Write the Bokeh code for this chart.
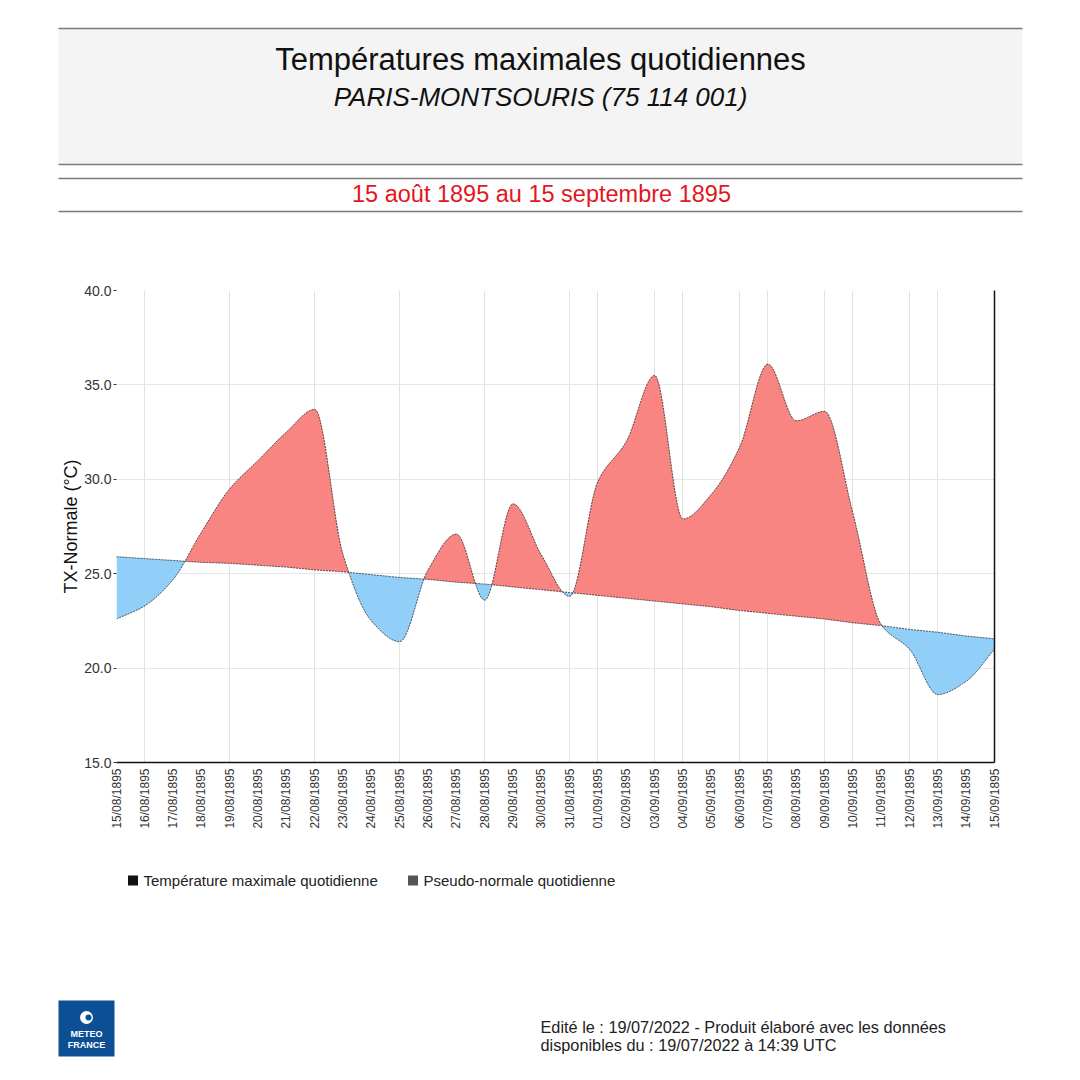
import numpy as np
from bokeh.plotting import figure
from bokeh.layouts import column
from bokeh.models import (Range1d, FixedTicker, PrintfTickFormatter, LinearAxis, ColumnDataSource)
from bokeh.core.properties import value
from bokeh.embed import file_html
from bokeh.resources import INLINE

FONT = "Liberation Sans"

# ---------------- data ----------------
dates = ["15/08/1895", "16/08/1895", "17/08/1895", "18/08/1895", "19/08/1895", "20/08/1895",
         "21/08/1895", "22/08/1895", "23/08/1895", "24/08/1895", "25/08/1895", "26/08/1895",
         "27/08/1895", "28/08/1895", "29/08/1895", "30/08/1895", "31/08/1895", "01/09/1895",
         "02/09/1895", "03/09/1895", "04/09/1895", "05/09/1895", "06/09/1895", "07/09/1895",
         "08/09/1895", "09/09/1895", "10/09/1895", "11/09/1895", "12/09/1895", "13/09/1895",
         "14/09/1895", "15/09/1895"]
tx = [22.6, 23.3, 24.7, 27.2, 29.5, 31.0, 32.5, 33.7, 26.0, 22.5, 21.4, 25.2,
      27.1, 23.6, 28.7, 26.0, 23.8, 29.9, 32.0, 35.5, 27.9, 29.2, 31.7, 36.1,
      33.1, 33.6, 28.2, 22.3, 21.0, 18.6, 19.3, 21.0]
normale = [25.9, 25.8, 25.7, 25.6, 25.55, 25.45, 25.35, 25.2, 25.1, 24.95, 24.8, 24.7,
           24.55, 24.45, 24.3, 24.15, 24.0, 23.85, 23.7, 23.55, 23.4, 23.25, 23.05, 22.9,
           22.75, 22.6, 22.4, 22.25, 22.05, 21.9, 21.7, 21.55]
grid_days = [1, 4, 7, 10, 13, 16, 17, 19, 20, 22, 23, 25, 26, 28, 29]
y_ticks = [15, 20, 25, 30, 35, 40]

title = "Températures maximales quotidiennes"
subtitle = "PARIS-MONTSOURIS (75 114 001)"
period = "15 août 1895 au 15 septembre 1895"
legend_labels = ["Température maximale quotidienne", "Pseudo-normale quotidienne"]
footer_lines = ["Edité le : 19/07/2022 - Produit élaboré avec les données",
                "disponibles du : 19/07/2022 à 14:39 UTC"]

RED = "#F98583"
BLUE = "#92CFF8"


def smooth(ys, n=30):
    """monotone cubic (PCHIP-like) rendering of daily values, unit spacing"""
    y = np.asarray(ys, dtype=float)
    m = len(y)
    dl = np.diff(y)
    d = np.zeros(m)
    d[0], d[-1] = dl[0], dl[-1]
    for k in range(1, m - 1):
        a, b = dl[k - 1], dl[k]
        d[k] = 0.0 if a * b <= 0 else 2 * a * b / (a + b)
    xs_out, ys_out = [], []
    t = np.linspace(0, 1, n, endpoint=False)
    h00 = 2 * t ** 3 - 3 * t ** 2 + 1
    h10 = t ** 3 - 2 * t ** 2 + t
    h01 = -2 * t ** 3 + 3 * t ** 2
    h11 = t ** 3 - t ** 2
    for i in range(m - 1):
        xs_out.append(i + t)
        ys_out.append(h00 * y[i] + h10 * d[i] + h01 * y[i + 1] + h11 * d[i + 1])
    xs_out.append(np.array([m - 1.0]))
    ys_out.append(np.array([y[-1]]))
    return np.concatenate(xs_out), np.concatenate(ys_out)


xs, tx_s = smooth(tx)
norm_s = np.interp(xs, np.arange(len(normale)), normale)

W = 1064


def blank(h, y0, y1):
    f = figure(width=W, height=h, x_range=Range1d(0, W), y_range=Range1d(y1, y0),
               x_axis_type=None, y_axis_type=None, toolbar_location=None,
               output_backend="svg", min_border=0, frame_align=False)
    f.grid.visible = False
    f.outline_line_color = None
    return f


# ---------------- header ----------------
head = blank(232, 0, 232)
head.quad(left=[58], right=[1022], top=[28], bottom=[164], fill_color="#F4F4F4", line_color=None)
head.segment(x0=[58] * 4, x1=[1022] * 4, y0=[28, 164, 178, 211], y1=[28, 164, 178, 211],
             line_color="#7a7a7a", line_width=1.3)
head.text(x=[540], y=[59], text=[title], text_font=value(FONT), text_font_size="31px",
          text_align="center", text_baseline="middle", text_color="#111111")
head.text(x=[540], y=[96], text=[subtitle], text_font=value(FONT), text_font_size="26px",
          text_font_style="italic", text_align="center", text_baseline="middle", text_color="#111111")
head.text(x=[541], y=[193], text=[period], text_font=value(FONT), text_font_size="23.5px",
          text_align="center", text_baseline="middle", text_color="#E3161E")

# ---------------- main chart ----------------
p = figure(width=W, height=620, x_range=Range1d(0, len(tx) - 1), y_range=Range1d(15, 40),
           toolbar_location=None, output_backend="svg", frame_align=False,
           min_border_left=116, min_border_right=70, min_border_top=58, min_border_bottom=90)
p.outline_line_color = None

src = ColumnDataSource(dict(x=xs, tx=tx_s, nm=norm_s,
                            hi=np.maximum(tx_s, norm_s), lo=np.minimum(tx_s, norm_s)))
p.varea(x="x", y1="nm", y2="hi", source=src, fill_color=RED)
p.varea(x="x", y1="lo", y2="nm", source=src, fill_color=BLUE)
p.line(x="x", y="tx", source=src, line_color="#222222", line_width=0.8, line_dash="2 1")
p.line(x="x", y="nm", source=src, line_color="#222222", line_width=0.8, line_dash="2 1")

p.xgrid.ticker = FixedTicker(ticks=grid_days)
p.xgrid.grid_line_color = "#e2e2e2"
p.ygrid.ticker = FixedTicker(ticks=y_ticks)
p.ygrid.grid_line_color = "#e6e6e6"

xa = p.xaxis[0]
xa.ticker = FixedTicker(ticks=list(range(len(dates))))
xa.major_label_overrides = {i: d for i, d in enumerate(dates)}
xa.major_label_orientation = np.pi / 2
xa.major_label_text_font = FONT
xa.major_label_text_font_size = "12px"
xa.major_label_text_color = "#333333"
xa.major_label_standoff = 6
xa.major_tick_out = 0
xa.major_tick_in = 0
xa.minor_tick_line_color = None
xa.axis_line_color = "#111111"
xa.axis_line_width = 1.5

ya = p.yaxis[0]
ya.ticker = FixedTicker(ticks=y_ticks)
ya.formatter = PrintfTickFormatter(format="%.1f")
ya.major_label_text_font = FONT
ya.major_label_text_font_size = "14px"
ya.major_label_text_color = "#333333"
ya.major_tick_out = 3
ya.major_tick_in = 0
ya.major_tick_line_color = "#333333"
ya.minor_tick_line_color = None
ya.axis_line_color = None
ya.major_label_standoff = 2
ya.axis_label = "TX-Normale (°C)"
ya.axis_label_text_font = FONT
ya.axis_label_text_font_size = "18px"
ya.axis_label_text_font_style = "normal"
ya.axis_label_text_color = "#111111"
ya.axis_label_standoff = 0

ra = LinearAxis(ticker=FixedTicker(ticks=[]), major_tick_line_color=None,
                minor_tick_line_color=None, axis_line_color="#111111", axis_line_width=1.5)
p.add_layout(ra, "right")

# ---------------- footer ----------------
foot = blank(212, 852, 1064)
foot.scatter(x=[132.5, 412.5], y=[880, 880], marker="square", size=10,
             fill_color=["#111111", "#555555"], line_color=None)
foot.text(x=[143, 423], y=[880, 880], text=legend_labels, text_font=value(FONT),
          text_font_size="15px", text_baseline="middle", text_color="#222222")
foot.quad(left=[58], right=[114], top=[1000], bottom=[1056], fill_color="#0D4F95", line_color=None)
foot.scatter(x=[86], y=[1017], marker="circle", size=13, fill_color="white", line_color=None)
foot.scatter(x=[88], y=[1017], marker="circle", size=6, fill_color="#0D4F95", line_color=None)
foot.text(x=[86, 86], y=[1033, 1044], text=["METEO", "FRANCE"], text_font=value(FONT),
          text_font_size="9px", text_font_style="bold", text_align="center",
          text_baseline="middle", text_color="white")
foot.text(x=[540, 540], y=[1026, 1044], text=footer_lines, text_font=value(FONT),
          text_font_size="16.3px", text_baseline="middle", text_color="#222222")

layout = column(head, p, foot, spacing=0)
open("out.html", "w").write(file_html(layout, INLINE))
